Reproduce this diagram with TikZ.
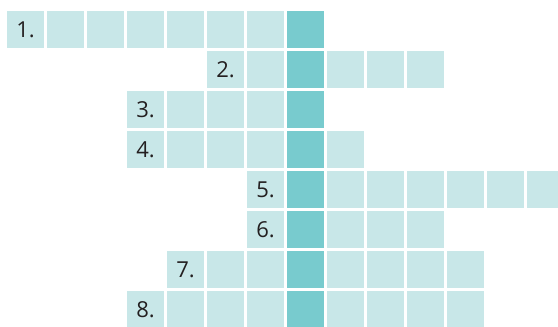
\documentclass[tikz,border=0pt]{standalone}
\usepackage{fontspec}
\setmainfont{Open Sans}
\usetikzlibrary{positioning}
\definecolor{xwLight}{HTML}{C8E7E8}
\definecolor{xwKey}{HTML}{78CBCE}
\definecolor{xwText}{HTML}{231F20}

\begin{document}
\begin{tikzpicture}[
    node distance=3pt,
    cell/.style={
        fill=xwLight, minimum width=37pt, minimum height=37pt,
        inner sep=0pt, outer sep=0pt, anchor=center
    },
    keycell/.style={cell, fill=xwKey},
    numcell/.style={
        cell, font=\fontsize{22}{22}\selectfont, text=xwText
    }
]
\useasboundingbox (0,0) rectangle (558pt,-327pt);

% === Key column (vertical word) ===
\node[keycell] (k1) at (305.5pt,-29.5pt) {};
\node[keycell, below=of k1] (k2) {};
\node[keycell, below=of k2] (k3) {};
\node[keycell, below=of k3] (k4) {};
\node[keycell, below=of k4] (k5) {};
\node[keycell, below=of k5] (k6) {};
\node[keycell, below=of k6] (k7) {};
\node[keycell, below=of k7] (k8) {};

% Row 1: 6 left, 0 right
\node[cell, left=of k1] (l1a) {};
\node[cell, left=of l1a] (l1b) {};
\node[cell, left=of l1b] (l1c) {};
\node[cell, left=of l1c] (l1d) {};
\node[cell, left=of l1d] (l1e) {};
\node[cell, left=of l1e] (l1f) {};
\node[numcell, left=of l1f] (n1) {1.};

% Row 2: 1 left, 3 right
\node[cell, left=of k2] (l2a) {};
\node[numcell, left=of l2a] (n2) {2.};
\node[cell, right=of k2] (r2a) {};
\node[cell, right=of r2a] (r2b) {};
\node[cell, right=of r2b] (r2c) {};

% Row 3: 3 left, 0 right
\node[cell, left=of k3] (l3a) {};
\node[cell, left=of l3a] (l3b) {};
\node[cell, left=of l3b] (l3c) {};
\node[numcell, left=of l3c] (n3) {3.};

% Row 4: 3 left, 1 right
\node[cell, left=of k4] (l4a) {};
\node[cell, left=of l4a] (l4b) {};
\node[cell, left=of l4b] (l4c) {};
\node[numcell, left=of l4c] (n4) {4.};
\node[cell, right=of k4] (r4a) {};

% Row 5: 0 left, 6 right
\node[numcell, left=of k5] (n5) {5.};
\node[cell, right=of k5] (r5a) {};
\node[cell, right=of r5a] (r5b) {};
\node[cell, right=of r5b] (r5c) {};
\node[cell, right=of r5c] (r5d) {};
\node[cell, right=of r5d] (r5e) {};
\node[cell, right=of r5e] (r5f) {};

% Row 6: 0 left, 3 right
\node[numcell, left=of k6] (n6) {6.};
\node[cell, right=of k6] (r6a) {};
\node[cell, right=of r6a] (r6b) {};
\node[cell, right=of r6b] (r6c) {};

% Row 7: 2 left, 4 right
\node[cell, left=of k7] (l7a) {};
\node[cell, left=of l7a] (l7b) {};
\node[numcell, left=of l7b] (n7) {7.};
\node[cell, right=of k7] (r7a) {};
\node[cell, right=of r7a] (r7b) {};
\node[cell, right=of r7b] (r7c) {};
\node[cell, right=of r7c] (r7d) {};

% Row 8: 3 left, 4 right
\node[cell, left=of k8] (l8a) {};
\node[cell, left=of l8a] (l8b) {};
\node[cell, left=of l8b] (l8c) {};
\node[numcell, left=of l8c] (n8) {8.};
\node[cell, right=of k8] (r8a) {};
\node[cell, right=of r8a] (r8b) {};
\node[cell, right=of r8b] (r8c) {};
\node[cell, right=of r8c] (r8d) {};

\end{tikzpicture}
\end{document}
